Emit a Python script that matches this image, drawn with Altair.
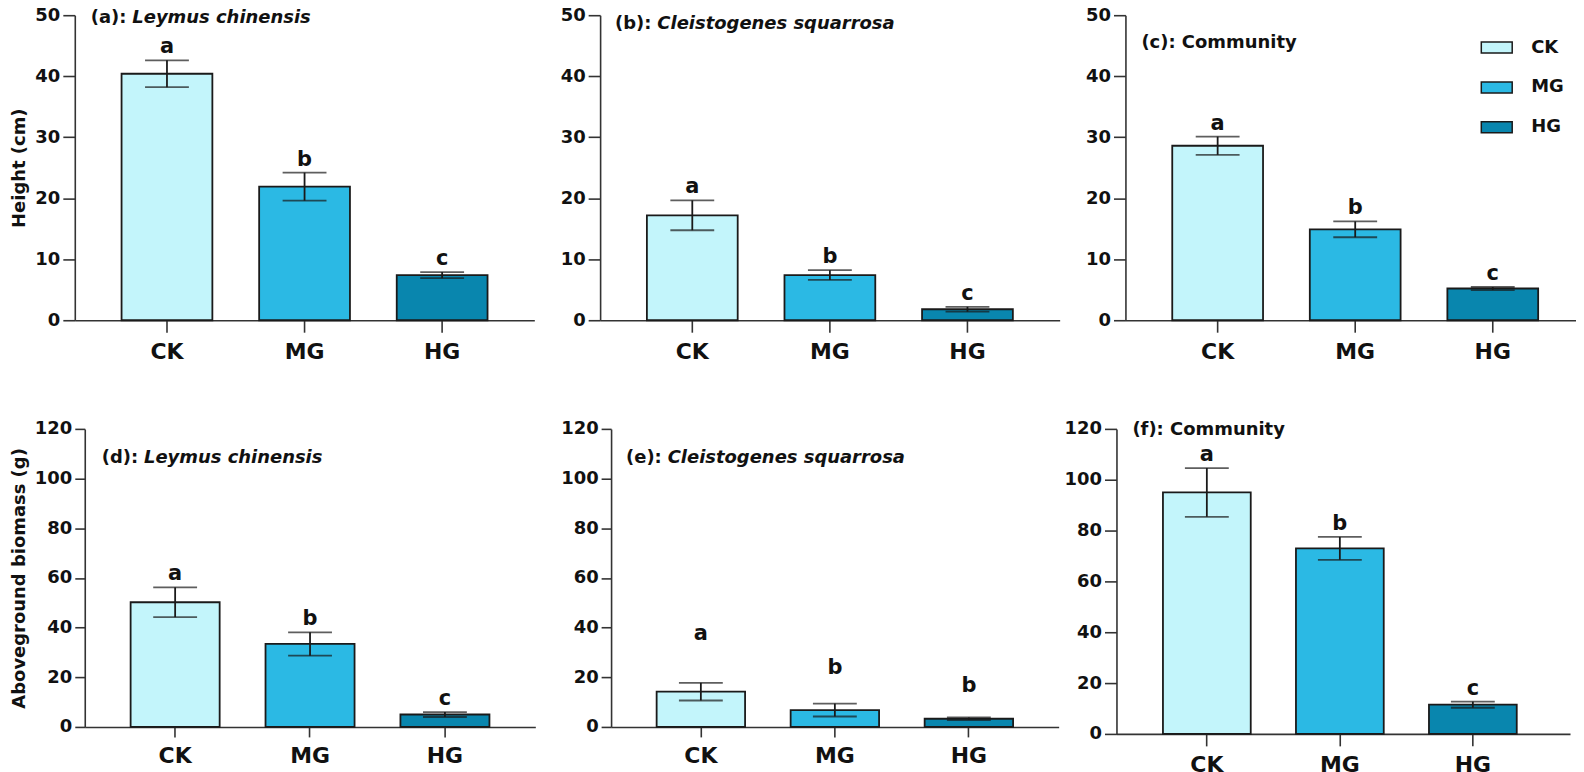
import altair as alt
import pandas as pd

GROUPS = ["CK", "MG", "HG"]
COLORS = ["#c3f5fb", "#2bb9e4", "#0986ae"]

# Plant height (cm): mean and standard error
HEIGHT_LC_MEAN = [40.4, 21.9, 7.4]
HEIGHT_LC_SE = [2.2, 2.3, 0.5]
HEIGHT_CS_MEAN = [17.2, 7.4, 1.8]
HEIGHT_CS_SE = [2.45, 0.8, 0.4]
HEIGHT_COM_MEAN = [28.6, 14.9, 5.2]
HEIGHT_COM_SE = [1.5, 1.3, 0.25]

# Aboveground biomass (g)
BIO_LC_MEAN = [50.2, 33.4, 5.0]
BIO_LC_SE = [6.0, 4.7, 1.0]
BIO_CS_MEAN = [14.2, 6.8, 3.3]
BIO_CS_SE = [3.55, 2.6, 0.5]
BIO_COM_MEAN = [95.0, 73.0, 11.5]
BIO_COM_SE = [9.6, 4.5, 1.2]

LETTERS_ABC = ["a", "b", "c"]
LETTERS_ABB = ["a", "b", "b"]
LETTER_AT_E = [32.2, 18.6, 11.3]  # panel (e) letters sit higher than the error bars

FONT = "DejaVu Sans"
INK = "#1a1a1a"
CHAR_W = {"(": 0.457, ")": 0.457, ":": 0.380, " ": 0.348, "a": 0.675, "b": 0.716,
          "c": 0.593, "d": 0.716, "e": 0.678, "f": 0.435}


def text_width(s, size=18):
    return sum(CHAR_W.get(ch, 0.65) for ch in s) * size


def panel(mean, se, letters, ymax, ystep, width, height, tick, ytitle,
          prefix, species, lab_x, lab_y, letter_at=None, legend=None,
          xscale=None):
    lo = [m - s for m, s in zip(mean, se)]
    hi = [m + s for m, s in zip(mean, se)]
    lab = letter_at if letter_at is not None else hi
    df = pd.DataFrame({"group": GROUPS, "mean": mean, "lo": lo, "hi": hi,
                       "letter": letters, "lab": lab})
    if xscale is None:
        xscale = alt.Scale(paddingInner=0.34, paddingOuter=0.34)
    xaxis = alt.Axis(title=None, labelAngle=0, labelFontSize=22, tickSize=tick,
                     labelPadding=9)
    yaxis = alt.Axis(values=list(range(0, ymax + 1, ystep)), title=ytitle,
                     tickSize=tick, labelPadding=3, titlePadding=6,
                     labelFontSize=18, titleFontSize=18)
    yscale = alt.Scale(domain=[0, ymax], nice=False, zero=True)

    def X():
        return alt.X("group:N", sort=GROUPS, scale=xscale, axis=xaxis)

    def Y(field):
        return alt.Y(f"{field}:Q", scale=yscale, axis=yaxis, title=ytitle)

    base = alt.Chart(df)
    bars = base.mark_bar(stroke=INK, strokeWidth=1.8).encode(
        x=X(), y=Y("mean"),
        color=alt.Color("group:N", sort=GROUPS,
                        scale=alt.Scale(domain=GROUPS, range=COLORS),
                        legend=legend),
    )
    rule = base.mark_rule(color=INK, strokeWidth=1.8).encode(
        x=X(), y=Y("lo"), y2="hi:Q")
    tick_hi = base.mark_tick(color=INK, thickness=1.8, size=44).encode(
        x=X(), y=Y("hi"))
    tick_lo = base.mark_tick(color=INK, thickness=1.8, size=44).encode(
        x=X(), y=Y("lo"))
    text = base.mark_text(font=FONT, fontSize=21, fontWeight="bold",
                          color="#111", baseline="alphabetic", dy=-7).encode(
        x=X(), y=Y("lab"), text="letter:N")

    layers = [bars, rule, tick_hi, tick_lo, text]
    pre = alt.Chart(pd.DataFrame({"t": [prefix]})).mark_text(
        font=FONT, fontSize=18, fontWeight="bold", color="#111",
        align="left", baseline="alphabetic").encode(
        x=alt.value(lab_x), y=alt.value(lab_y), text="t:N")
    layers.append(pre)
    if species:
        sp = alt.Chart(pd.DataFrame({"t": [species]})).mark_text(
            font=FONT, fontSize=18, fontWeight="bold", fontStyle="italic",
            color="#111", align="left", baseline="alphabetic").encode(
            x=alt.value(lab_x + text_width(prefix)), y=alt.value(lab_y),
            text="t:N")
        layers.append(sp)
    return alt.layer(*layers).properties(width=width, height=height)


def spacer():
    return alt.Chart(pd.DataFrame({"v": [0]})).mark_point(
        opacity=0, size=1).encode(x=alt.value(0), y=alt.value(0)).properties(
        width=1, height=1)


legend_c = alt.Legend(
    title=None, orient="none", legendX=356, legendY=16,
    symbolType="M-1,-0.355H1V0.355H-1Z", symbolSize=961,
    symbolStrokeColor=INK, symbolStrokeWidth=1.5, symbolOpacity=1,
    labelFont=FONT, labelFontSize=18, labelFontWeight="bold", labelColor="#111",
    labelOffset=18, rowPadding=14, padding=0,
)

pa = panel(HEIGHT_LC_MEAN, HEIGHT_LC_SE, LETTERS_ABC, 50, 10, 461, 306, 12,
           "Height (cm)", "(a): ", "Leymus chinensis", 16, 8)
pb = panel(HEIGHT_CS_MEAN, HEIGHT_CS_SE, LETTERS_ABC, 50, 10, 461, 306, 12,
           None, "(b): ", "Cleistogenes squarrosa", 15, 14)
pc = panel(HEIGHT_COM_MEAN, HEIGHT_COM_SE, LETTERS_ABC, 50, 10, 452, 306, 12,
           None, "(c): Community", None, 16, 33, legend=legend_c,
           xscale=alt.Scale(paddingInner=0.34, paddingOuter=0.3077, align=0.553))
pd_ = panel(BIO_LC_MEAN, BIO_LC_SE, LETTERS_ABC, 120, 20, 452, 299, 10,
            "Aboveground biomass (g)", "(d): ", "Leymus chinensis", 17, 34)
pe = panel(BIO_CS_MEAN, BIO_CS_SE, LETTERS_ABB, 120, 20, 449, 299, 10,
           None, "(e): ", "Cleistogenes squarrosa", 15, 34,
           letter_at=LETTER_AT_E)
pf = panel(BIO_COM_MEAN, BIO_COM_SE, LETTERS_ABC, 120, 20, 455, 306, 12,
           None, "(f): Community", None, 16, 6,
           xscale=alt.Scale(paddingInner=0.34, paddingOuter=0.375, align=0.466))

ind = dict(color="independent")
top = alt.hconcat(
    spacer(),
    alt.hconcat(
        alt.hconcat(pa, pb, spacing=25).resolve_scale(**ind),
        pc, spacing=25).resolve_scale(**ind),
    spacing=0).resolve_scale(**ind)
bottom = alt.hconcat(
    spacer(),
    alt.hconcat(
        alt.hconcat(pd_, pe, spacing=25).resolve_scale(**ind),
        pf, spacing=5).resolve_scale(**ind),
    spacing=0).resolve_scale(**ind)

chart = alt.vconcat(top, bottom, spacing=58).resolve_scale(**ind).properties(
    padding={"left": 0, "top": -3, "right": 0, "bottom": 0}
).configure_axis(
    domainColor="#333333", domainWidth=1.6, tickColor="#333333", tickWidth=1.6,
    labelFont=FONT, titleFont=FONT, labelFontWeight="bold",
    titleFontWeight="bold", labelColor="#111111", titleColor="#111111",
    grid=False,
).configure_view(stroke=None)

chart.save("out.html", embed_options={"renderer": "svg", "actions": False})
